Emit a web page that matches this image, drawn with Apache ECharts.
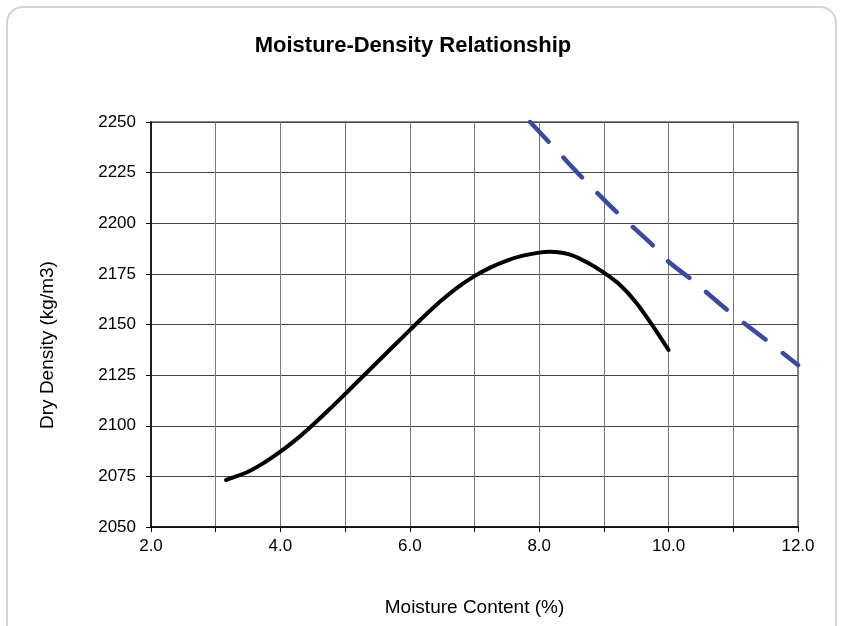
<!DOCTYPE html>
<html>
<head>
<meta charset="utf-8">
<script src="https://cdn.jsdelivr.net/npm/echarts@6/dist/echarts.min.js"></script>
<style>
  html, body { margin: 0; padding: 0; background: #fff; }
  #chart { width: 843px; height: 626px; }
</style>
</head>
<body>
<div id="chart"></div>
<script>
// Compaction curve: moisture content (%) vs dry density (kg/m3)
const moisture = [3.16, 3.25, 3.5, 3.75, 4.0, 4.25, 4.5, 4.75, 5.0, 5.25, 5.5, 5.75, 6.0, 6.25, 6.5,
                  6.75, 7.0, 7.25, 7.5, 7.75, 8.0, 8.15, 8.25, 8.5, 8.75, 9.0, 9.25, 9.5, 9.75, 10.0];
const density  = [2073.2, 2074.2, 2077.3, 2081.8, 2087.2, 2093.4, 2100.4, 2107.9, 2115.7, 2123.6, 2131.5, 2139.4, 2147.2, 2154.9, 2162.2,
                  2168.6, 2173.9, 2178.2, 2181.6, 2184.0, 2185.5, 2185.9, 2185.8, 2184.3, 2180.5, 2175.6, 2169.5, 2160.8, 2149.6, 2137.4];

// Zero air voids line
const zavMoisture = [7.86, 8.3, 8.65, 9.19, 9.76, 10.0, 10.33, 10.92, 11.52, 12.0];
const zavDensity  = [2250, 2235, 2223, 2205.7, 2189, 2181, 2172.8, 2156.8, 2142, 2130];

const titleText = 'Moisture-Density Relationship';
const xName = 'Moisture Content (%)';
const yName = 'Dry Density (kg/m3)';

const FONT = '"Liberation Sans", Arial, sans-serif';

const pairs = (xs, ys) => xs.map((x, i) => [x, ys[i]]);

const chart = echarts.init(document.getElementById('chart'), null, { renderer: 'canvas' });

chart.setOption({
  animation: false,
  backgroundColor: '#fff',
  grid: {
    left: 151, right: 45, top: 122, bottom: 99,
    show: true, borderColor: '#888', borderWidth: 2, backgroundColor: 'transparent'
  },
  graphic: [
    {
      type: 'rect', z: -10,
      shape: { x: 7, y: 7, width: 829, height: 660, r: 16 },
      style: { fill: '#fff', stroke: '#d4d4d4', lineWidth: 2 }
    },
    {
      type: 'text', x: 413, y: 46,
      style: { text: titleText, font: 'bold 22px ' + FONT, fill: '#000', align: 'center', verticalAlign: 'middle' }
    },
    {
      type: 'text', x: 48, y: 345, rotation: Math.PI / 2,
      style: { text: yName, font: '19px ' + FONT, fill: '#000', align: 'center', verticalAlign: 'middle' }
    }
  ],
  xAxis: {
    type: 'value', min: 2, max: 12, interval: 1,
    name: xName, nameLocation: 'middle', nameGap: 71,
    nameTextStyle: { fontFamily: FONT, fontSize: 19, color: '#000' },
    axisLine: { show: true, onZero: false, lineStyle: { color: '#000', width: 1.5 } },
    axisTick: { show: true, length: 5, lineStyle: { color: '#000' } },
    axisLabel: {
      margin: 11, fontFamily: FONT, fontSize: 17, color: '#000',
      formatter: v => (Math.round(v) % 2 === 0 ? v.toFixed(1) : '')
    },
    splitLine: { show: true, lineStyle: { color: '#777', width: 1 } }
  },
  yAxis: {
    type: 'value', min: 2050, max: 2250, interval: 25,
    axisLine: { show: true, onZero: false, lineStyle: { color: '#000', width: 1.5 } },
    axisTick: { show: true, length: 5, lineStyle: { color: '#000' } },
    axisLabel: { margin: 15, fontFamily: FONT, fontSize: 17, color: '#000', formatter: v => String(v) },
    splitLine: { show: true, lineStyle: { color: '#444', width: 1 } }
  },
  series: [
    {
      type: 'line', name: 'Compaction', data: pairs(moisture, density),
      smooth: 0.3, showSymbol: false, clip: true,
      lineStyle: { color: '#000', width: 4, cap: 'round', join: 'round' }
    },
    {
      type: 'line', name: 'Zero air voids', data: pairs(zavMoisture, zavDensity),
      smooth: 0.3, showSymbol: false, clip: true,
      lineStyle: { color: '#3B4AA0', width: 4.5, type: [27, 22], cap: 'round' }
    }
  ]
});
</script>
</body>
</html>
